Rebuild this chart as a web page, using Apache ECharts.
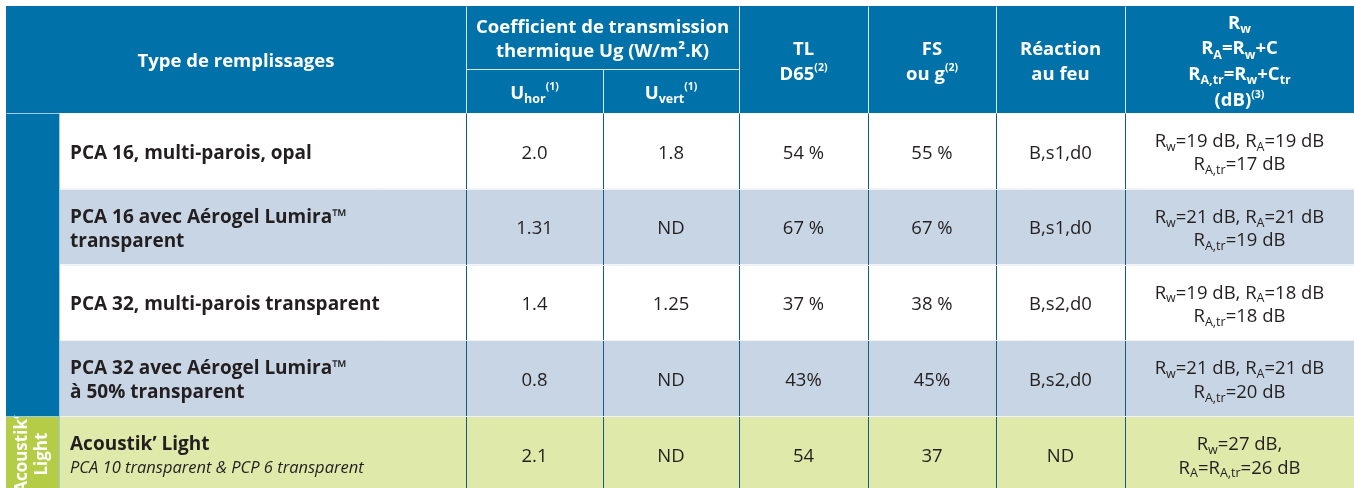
<!DOCTYPE html>
<html>
<head>
<meta charset="utf-8">
<script src="https://cdn.jsdelivr.net/npm/echarts@6/dist/echarts.min.js"></script>
<style>
  html, body { margin: 0; padding: 0; background: #fff; }
  #main { width: 1354px; height: 488px; }
</style>
</head>
<body>
<div id="main"></div>
<script>
// ---- table data ----
var typeNames = [
  ['PCA 16, multi-parois, opal'],
  ['PCA 16 avec Aérogel Lumira™', 'transparent'],
  ['PCA 32, multi-parois transparent'],
  ['PCA 32 avec Aérogel Lumira™', 'à 50% transparent'],
  ['Acoustik’ Light']
];
var typeNotes = ['', '', '', '', 'PCA 10 transparent & PCP 6 transparent'];
var uHor = ['2.0', '1.31', '1.4', '0.8', '2.1'];
var uVert = ['1.8', 'ND', '1.25', 'ND', 'ND'];
var tlD65 = ['54 %', '67 %', '37 %', '43%', '54'];
var fsG = ['55 %', '67 %', '38 %', '45%', '37'];
var fireClass = ['B,s1,d0', 'B,s1,d0', 'B,s2,d0', 'B,s2,d0', 'ND'];
var rW = [19, 21, 19, 21, 27];
var rA = [19, 21, 18, 21, 26];
var rAtr = [17, 19, 18, 20, 26];
var rowGroup = ['pca', 'pca', 'pca', 'pca', 'acoustik'];
var groupLabels = { pca: '', acoustik: 'Acoustik’\nLight' };

// ---- layout (axis units) ----
var colEdges = [0, 53, 460, 597, 733, 862, 990, 1119, 1348];
var headSplit = 63, headBottom = 107, rowH = 75.8;
var textShift = 2.5; // Myriad-style glyphs sit a bit lower than Open Sans
var rowFill = { pca: ['#ffffff', '#c7d5e5'], acoustik: '#dfe9a9' };
var blue = '#0071a9', green = '#b5cd46', ink = '#231f20';
var FF = '"Open Sans", sans-serif';

function rowTop(i) { return headBottom + i * rowH; }

var rich = {
  h: { fontFamily: FF, fontWeight: 'bold', fontSize: 18.5, fill: '#fff' },
  hs: { fontFamily: FF, fontWeight: 'bold', fontSize: 12.5, fill: '#fff', padding: [12, 0, 0, 0] },
  hp: { fontFamily: FF, fontWeight: 'bold', fontSize: 10.5, fill: '#fff', padding: [0, 0, 12, 0] },
  b: { fontFamily: FF, fontWeight: 'bold', fontSize: 19, fill: ink },
  it: { fontFamily: FF, fontStyle: 'italic', fontSize: 16.5, fill: ink },
  n: { fontFamily: FF, fontSize: 18.5, fill: ink },
  ns: { fontFamily: FF, fontSize: 12.5, fill: ink, padding: [11, 0, 0, 0] },
  side: { fontFamily: FF, fontWeight: 'bold', fontSize: 17, fill: '#fff' }
};

// ---- build cells ----
var cells = [];
function addCell(x0, x1, y0, y1, fill, text, opt) {
  opt = opt || {};
  cells.push({ x0: x0, x1: x1, y0: y0, y1: y1, fill: fill, text: text,
    align: opt.align || 'center', indent: opt.indent || 0, lh: opt.lh || 24, rot: opt.rot || 0 });
}
var E = colEdges;
// header
addCell(E[0], E[2], 0, headBottom, blue, '{h|Type de remplissages}');
addCell(E[2], E[4], 0, headSplit, blue, '{h|Coefficient de transmission}\n{h|thermique Ug (W/m².K)}');
addCell(E[2], E[3], headSplit, headBottom, blue, '{h|U}{hs|hor}{hp|(1)}');
addCell(E[3], E[4], headSplit, headBottom, blue, '{h|U}{hs|vert}{hp|(1)}');
addCell(E[4], E[5], 0, headBottom, blue, '{h|TL}\n{h|D65}{hp|(2)}', { lh: 25 });
addCell(E[5], E[6], 0, headBottom, blue, '{h|FS}\n{h|ou g}{hp|(2)}', { lh: 25 });
addCell(E[6], E[7], 0, headBottom, blue, '{h|Réaction}\n{h|au feu}', { lh: 25 });
addCell(E[7], E[8], 0, headBottom, blue,
  '{h|R}{hs|w}\n{h|R}{hs|A}{h|=R}{hs|w}{h|+C}\n{h|R}{hs|A,tr}{h|=R}{hs|w}{h|+C}{hs|tr}\n{h|(dB)}{hp|(3)}', { lh: 25.7 });

// side group cells
var start = 0;
for (var i = 1; i <= rowGroup.length; i++) {
  if (i === rowGroup.length || rowGroup[i] !== rowGroup[start]) {
    var g = rowGroup[start];
    var lbl = groupLabels[g] ? groupLabels[g].split('\n').map(function (s) { return '{side|' + s + '}'; }).join('\n') : '';
    addCell(E[0], E[1], rowTop(start), rowTop(i), g === 'pca' ? blue : green, lbl, { rot: Math.PI / 2, lh: 20 });
    start = i;
  }
}

// body rows
typeNames.forEach(function (name, r) {
  var y0 = rowTop(r), y1 = rowTop(r + 1);
  var g = rowGroup[r];
  var fill = g === 'pca' ? rowFill.pca[r % 2] : rowFill.acoustik;
  var label = name.map(function (s) { return '{b|' + s + '}'; }).join('\n');
  if (typeNotes[r]) label += '\n{it|' + typeNotes[r] + '}';
  addCell(E[1], E[2], y0, y1, fill, label, { align: 'left', indent: 11 });
  addCell(E[2], E[3], y0, y1, fill, '{n|' + uHor[r] + '}');
  addCell(E[3], E[4], y0, y1, fill, '{n|' + uVert[r] + '}');
  addCell(E[4], E[5], y0, y1, fill, '{n|' + tlD65[r] + '}');
  addCell(E[5], E[6], y0, y1, fill, '{n|' + fsG[r] + '}');
  addCell(E[6], E[7], y0, y1, fill, '{n|' + fireClass[r] + '}');
  var ac;
  if (rA[r] === rAtr[r] && g === 'acoustik') {
    ac = '{n|R}{ns|w}{n|=' + rW[r] + ' dB,}\n{n|R}{ns|A}{n|=R}{ns|A,tr}{n|=' + rAtr[r] + ' dB}';
  } else {
    ac = '{n|R}{ns|w}{n|=' + rW[r] + ' dB, R}{ns|A}{n|=' + rA[r] + ' dB}\n{n|R}{ns|A,tr}{n|=' + rAtr[r] + ' dB}';
  }
  addCell(E[7], E[8], y0, y1, fill, ac, { lh: 23.5 });
});

// ---- rules (thin lines) ----
var bodyTop = headBottom, bodyBottom = rowTop(typeNames.length);
var rules = [];
// header separators (light)
[2, 4, 5, 6, 7].forEach(function (c) { rules.push([E[c], 0, E[c], headBottom, '#d6e6f1']); });
rules.push([E[3], headSplit, E[3], headBottom, '#d6e6f1']);
rules.push([E[2], headSplit, E[4], headSplit, '#d6e6f1']);
// body column separators (dark blue)
[2, 3, 4, 5, 6, 7].forEach(function (c) { rules.push([E[c], bodyTop, E[c], bodyBottom, '#175a85']); });
// row separators (white)
for (var k = 1; k < typeNames.length; k++) rules.push([E[1], rowTop(k), E[8], rowTop(k), '#eef2f7']);
// side column outline (light)
rules.push([E[0], bodyTop, E[1], bodyTop, '#9fcbe6']);
rules.push([E[1], bodyTop, E[1], bodyBottom, '#9fcbe6']);
rules.push([E[0], rowTop(4), E[1], rowTop(4), '#9fcbe6']);

function renderCell(params, api) {
  var c = cells[params.dataIndex];
  var p0 = api.coord([api.value(0), api.value(2)]);
  var p1 = api.coord([api.value(1), api.value(3)]);
  var kids = [{
    type: 'rect',
    shape: { x: p0[0], y: p0[1], width: p1[0] - p0[0], height: p1[1] - p0[1] },
    style: { fill: c.fill }
  }];
  if (c.text) {
    kids.push({
      type: 'text',
      x: c.align === 'left' ? p0[0] + c.indent : (p0[0] + p1[0]) / 2,
      y: (p0[1] + p1[1]) / 2 + (c.rot ? 0 : textShift),
      rotation: c.rot,
      style: {
        text: c.text, rich: rich, align: c.align, verticalAlign: 'middle',
        lineHeight: c.lh, fontFamily: FF, fontSize: 17, fill: ink
      }
    });
  }
  return { type: 'group', children: kids };
}

function renderRule(params, api) {
  var a = api.coord([api.value(0), api.value(1)]);
  var b = api.coord([api.value(2), api.value(3)]);
  return {
    type: 'line',
    shape: { x1: Math.round(a[0]) + 0.5, y1: Math.round(a[1]) + 0.5, x2: Math.round(b[0]) + 0.5, y2: Math.round(b[1]) + 0.5 },
    style: { stroke: rules[params.dataIndex][4], lineWidth: 1 }
  };
}

var chart = echarts.init(document.getElementById('main'), null, { renderer: 'canvas' });
chart.setOption({
  animation: false,
  grid: { left: 6, top: 6, right: 0, bottom: 0 },
  xAxis: { type: 'value', min: 0, max: 1348, show: false },
  yAxis: { type: 'value', min: 0, max: 482, inverse: true, show: false },
  series: [
    {
      type: 'custom', name: 'cells', clip: false,
      data: cells.map(function (c) { return [c.x0, c.x1, c.y0, c.y1]; }),
      encode: { x: [0, 1], y: [2, 3] },
      renderItem: renderCell, silent: true
    },
    {
      type: 'custom', name: 'rules', clip: false, z: 3,
      data: rules.map(function (r) { return r.slice(0, 4); }),
      encode: { x: [0, 2], y: [1, 3] },
      renderItem: renderRule, silent: true
    }
  ]
});
</script>
</body>
</html>
